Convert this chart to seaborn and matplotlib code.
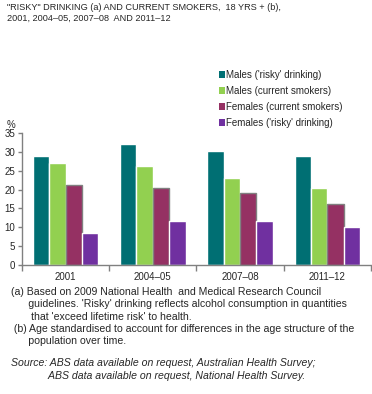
import pandas as pd
import numpy as np
import matplotlib
matplotlib.use('Agg')
import matplotlib.pyplot as plt
import seaborn as sns
from matplotlib.patches import Patch

sns.set_style('white')
plt.rcParams['font.family'] = ['Liberation Sans', 'DejaVu Sans']

# data
years = ['2001', '2004–05', '2007–08', '2011–12']
series = ["Males ('risky' drinking)", 'Males (current smokers)',
          'Females (current smokers)', "Females ('risky' drinking)"]
males_risky = [29.0, 32.2, 30.3, 29.0]
males_smokers = [27.1, 26.3, 23.1, 20.4]
females_smokers = [21.1, 20.3, 19.0, 16.1]
females_risky = [8.4, 11.6, 11.6, 10.0]
colors = ['#006f73', '#92d050', '#953163', '#7030a0']

rows = []
for s, vals in zip(series, [males_risky, males_smokers, females_smokers, females_risky]):
    for y, v in zip(years, vals):
        rows.append({'Year': y, 'Series': s, 'Value': v})
df = pd.DataFrame(rows)

fig = plt.figure(figsize=(3.72, 3.94), dpi=100)
ax = fig.add_axes([0.059, 0.328, 0.938, 0.334])

sns.barplot(data=df, x='Year', y='Value', hue='Series', hue_order=series,
            palette=colors, width=0.75, saturation=1, ax=ax, legend=False)

# grey outline on female smokers bars, like the original
for bar in ax.containers[2]:
    bar.set_edgecolor('#808080')
    bar.set_linewidth(1)

ax.set_xlim(-0.5, 3.5)
ax.set_ylim(0, 35)
ax.set_yticks(range(0, 36, 5))
ax.set_xlabel('')
ax.set_ylabel('')
ax.set_xticks(range(4))
ax.set_xticklabels(years)
ax.set_xticks(np.arange(-0.5, 4, 1), minor=True)
ax.tick_params(axis='x', which='major', length=0, labelsize=7, pad=5)
ax.tick_params(axis='x', which='minor', length=4, color='#808080', direction='out', width=1)
ax.tick_params(axis='y', length=3, color='#808080', direction='out', labelsize=7, pad=2, width=1)
ax.tick_params(axis='both', which='both', bottom=True, left=True)
for side in ['top', 'right']:
    ax.spines[side].set_visible(False)
for side in ['left', 'bottom']:
    ax.spines[side].set_color('#808080')
    ax.spines[side].set_linewidth(1)

fig.text(0.017, 0.675, '%', fontsize=7)

# title
fig.text(0.019, 0.992, '"RISKY" DRINKING (a) AND CURRENT SMOKERS,  18 YRS + (b),\n2001, 2004–05, 2007–08  AND 2011–12',
         fontsize=6.6, va='top', linespacing=1.2)

# legend
handles = [Patch(facecolor=c, edgecolor='none') for c in colors]
fig.legend(handles, series, loc='upper left', bbox_to_anchor=(0.575, 0.835),
           frameon=False, fontsize=7, handlelength=0.6, handleheight=0.6,
           handletextpad=0.15, labelspacing=0.62, borderpad=0)

# footnotes
foot = ("(a) Based on 2009 National Health  and Medical Research Council\n"
        "      guidelines. 'Risky' drinking reflects alcohol consumption in quantities\n"
        "       that 'exceed lifetime risk' to health.\n"
        " (b) Age standardised to account for differences in the age structure of the\n"
        "      population over time.")
fig.text(0.030, 0.272, foot, fontsize=7.6, va='top', linespacing=1.3)
fig.text(0.030, 0.092, "Source: ABS data available on request, Australian Health Survey;\n"
         "             ABS data available on request, National Health Survey.",
         fontsize=7.6, va='top', style='italic', linespacing=1.4)

fig.savefig('out.png', dpi=100)
